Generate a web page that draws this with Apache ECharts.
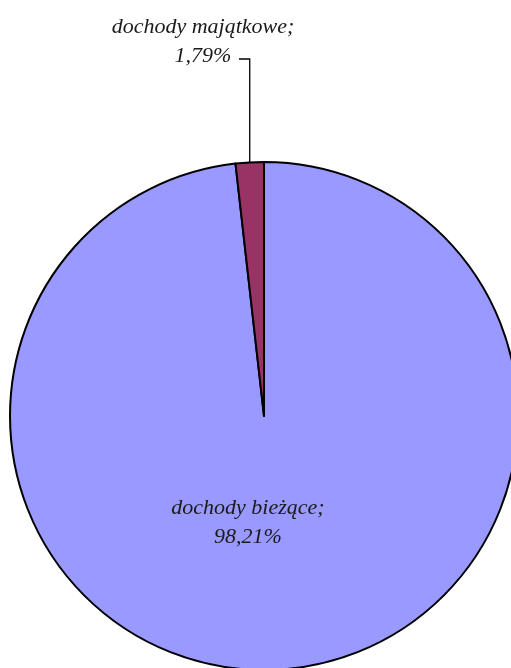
<!DOCTYPE html>
<html lang="pl" style="height: 100%">
<head>
  <meta charset="utf-8">
</head>
<body style="height: 100%; margin: 0; background: #fff">
  <div id="container" style="width: 511px; height: 668px"></div>
  <script src="https://cdn.jsdelivr.net/npm/echarts@6/dist/echarts.min.js"></script>
  <script>
    // dane
    var names = ['dochody bieżące', 'dochody majątkowe'];
    var values = [98.21, 1.79];
    var colors = ['#9999FF', '#993366'];

    var chart = echarts.init(document.getElementById('container'), null, { renderer: 'canvas' });

    var fontBase = {
      fontFamily: 'Liberation Serif',
      fontStyle: 'italic',
      fontSize: 22,
      lineHeight: 29,
      color: '#1a1a1a',
      formatter: function (p) {
        return p.name + ';\n' + p.value.toFixed(2).replace('.', ',') + '%';
      }
    };

    var data = names.map(function (n, i) {
      var item = { name: n, value: values[i], itemStyle: { color: colors[i] } };
      if (i === 0) {
        item.label = Object.assign({}, fontBase, { show: true, position: 'inside' });
        item.labelLine = { show: false };
      } else {
        item.label = Object.assign({}, fontBase, { show: true, position: 'outside' });
        item.labelLine = { show: true, lineStyle: { color: '#000', width: 1.3 } };
      }
      return item;
    });

    var option = {
      animation: false,
      series: [{
        type: 'pie',
        center: [264, 416],
        radius: 254,
        startAngle: 90,
        clockwise: true,
        itemStyle: { borderColor: '#000', borderWidth: 2 },
        emphasis: { disabled: true },
        data: data,
        labelLayout: function (params) {
          if (params.dataIndex === 0) {
            return { x: 248, y: 523, align: 'center', verticalAlign: 'middle' };
          }
          var p0 = params.labelLinePoints ? params.labelLinePoints[0] : [250, 163];
          return {
            x: 203, y: 42, align: 'center', verticalAlign: 'middle',
            labelLinePoints: [[p0[0], p0[1]], [p0[0], 59], [239, 59]]
          };
        }
      }]
    };

    chart.setOption(option);
    window.addEventListener('resize', chart.resize);
  </script>
</body>
</html>
